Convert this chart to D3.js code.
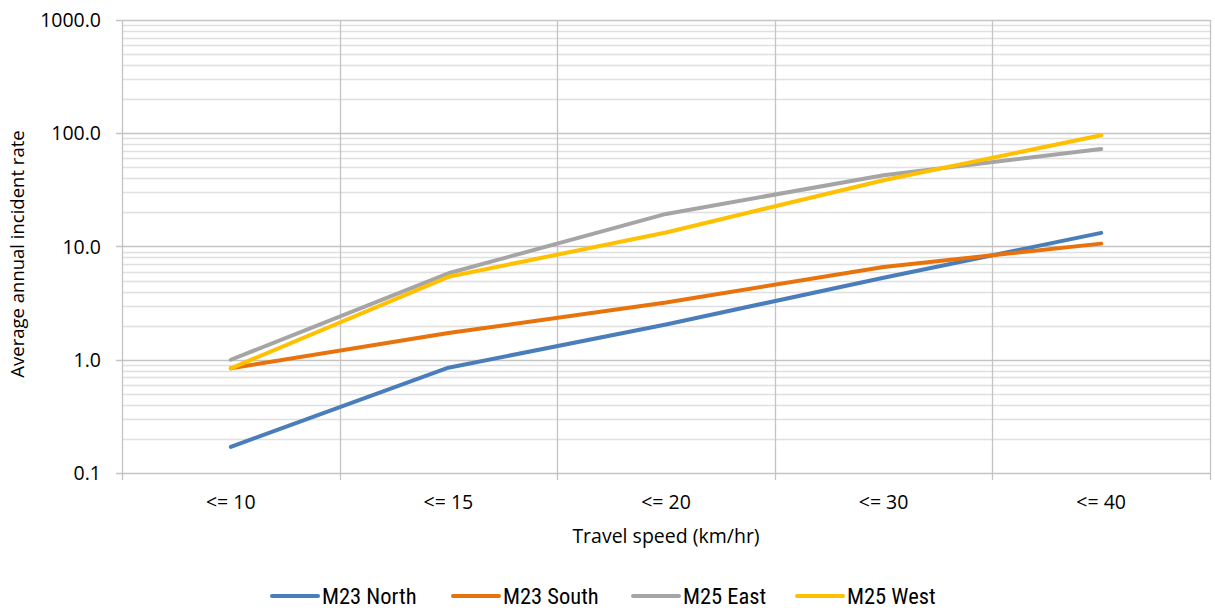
<!DOCTYPE html>
<html>
<head>
<meta charset="utf-8">
<script src="https://cdn.jsdelivr.net/npm/d3@7"></script>
<style>
  html, body { margin: 0; padding: 0; background: #fff; }
  svg { display: block; }
</style>
</head>
<body>
<svg id="chart" width="1215" height="610"></svg>
<script>
const categories = ["<= 10", "<= 15", "<= 20", "<= 30", "<= 40"];
const seriesNames = ["M23 North", "M23 South", "M25 East", "M25 West"];
const m23North = [0.17, 0.85, 2.05, 5.3, 13.2];
const m23South = [0.84, 1.72, 3.2, 6.6, 10.6];
const m25East  = [1.0, 5.8, 19.4, 42.5, 72.6];
const m25West  = [0.84, 5.4, 13.3, 38.5, 95.9];
const yTicks = [0.1, 1, 10, 100, 1000];
const colors = ["#4a7ebb", "#e8720c", "#a5a5a5", "#ffc000"];
const seriesValues = [m23North, m23South, m25East, m25West];

const svg = d3.select("#chart");
const L = 122, R = 1210, T = 20, B = 473;

const x = d3.scalePoint().domain(categories).range([L, R]).padding(0.5);
const band = (R - L) / categories.length;
const y = d3.scaleLog().domain([0.1, 1000]).range([B, T]);

const font = "'Open Sans', 'Noto Sans', sans-serif";

// minor gridlines
const minor = [];
for (let d = 0.1; d < 1000; d *= 10) {
  for (let k = 2; k <= 9; k++) minor.push(+(k * d).toPrecision(3));
}
svg.append("g").selectAll("line").data(minor).join("line")
  .attr("x1", L).attr("x2", R)
  .attr("y1", d => Math.round(y(d)) + 0.5).attr("y2", d => Math.round(y(d)) + 0.5)
  .attr("stroke", "#e0e0e0").attr("stroke-width", 1.3);

// major gridlines
svg.append("g").selectAll("line").data(yTicks).join("line")
  .attr("x1", L - 6).attr("x2", R)
  .attr("y1", d => Math.round(y(d)) + 0.5).attr("y2", d => Math.round(y(d)) + 0.5)
  .attr("stroke", "#c4c4c4").attr("stroke-width", 1.3);

// vertical gridlines at category boundaries
const bounds = d3.range(categories.length + 1).map(i => L + i * band);
svg.append("g").selectAll("line").data(bounds).join("line")
  .attr("x1", d => Math.round(d) + 0.5).attr("x2", d => Math.round(d) + 0.5)
  .attr("y1", T).attr("y2", B + 7)
  .attr("stroke", "#c4c4c4").attr("stroke-width", 1.3);

// y tick labels
svg.append("g").selectAll("text").data(yTicks).join("text")
  .attr("x", 101).attr("y", d => y(d)).attr("dy", "0.36em")
  .attr("text-anchor", "end")
  .attr("font-family", font).attr("font-size", 19.5).attr("fill", "#000")
  .text(d => d3.format(".1f")(d));

// x tick labels
svg.append("g").selectAll("text").data(categories).join("text")
  .attr("x", d => x(d)).attr("y", 509)
  .attr("text-anchor", "middle")
  .attr("font-family", font).attr("font-size", 19.5).attr("fill", "#000")
  .text(d => d);

// axis titles
svg.append("text").attr("x", (L + R) / 2 + 0).attr("y", 543)
  .attr("text-anchor", "middle").attr("font-family", font).attr("font-size", 19.5)
  .text("Travel speed (km/hr)");
svg.append("text").attr("transform", "translate(24,254) rotate(-90)")
  .attr("text-anchor", "middle").attr("font-family", font).attr("font-size", 18.5)
  .text("Average annual incident rate");

// lines
const line = d3.line().x((d, i) => x(categories[i])).y(d => y(d));
svg.append("g").selectAll("path").data(seriesValues).join("path")
  .attr("d", d => line(d))
  .attr("fill", "none")
  .attr("stroke", (d, i) => colors[i])
  .attr("stroke-width", 4)
  .attr("stroke-linecap", "round")
  .attr("stroke-linejoin", "round");

// legend
const legendFont = "'Liberation Sans Narrow', 'Arial Narrow', 'Roboto Condensed', sans-serif";
const legendX = [272, 453, 633, 797];
const lg = svg.append("g").selectAll("g").data(seriesNames).join("g")
  .attr("transform", (d, i) => `translate(${legendX[i]},596)`);
lg.append("line").attr("x1", 0).attr("x2", 46).attr("y1", 0).attr("y2", 0)
  .attr("stroke", (d, i) => colors[i]).attr("stroke-width", 4).attr("stroke-linecap", "round");
lg.append("text").attr("x", 50).attr("y", 0).attr("dy", "0.36em")
  .attr("font-family", legendFont).attr("font-size", 22.5).attr("fill", "#000")
  .text(d => d);
</script>
</body>
</html>
